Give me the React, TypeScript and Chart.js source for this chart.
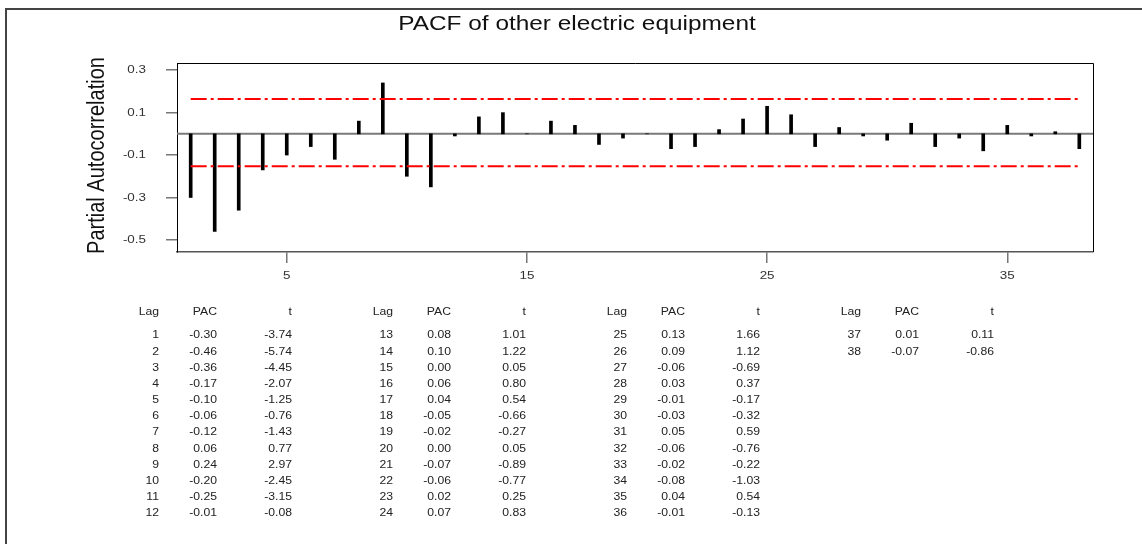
import React, { useEffect, useRef } from "react";
import { Chart, registerables } from "chart.js";

Chart.register(...registerables);

const TITLE = "PACF of other electric equipment";
const Y_TITLE = "Partial Autocorrelation";

const LAGS = [
  1, 2, 3, 4, 5, 6, 7, 8, 9, 10, 11, 12,
  13, 14, 15, 16, 17, 18, 19, 20, 21, 22, 23, 24,
  25, 26, 27, 28, 29, 30, 31, 32, 33, 34, 35, 36,
  37, 38,
];
const PAC = [
  -0.30, -0.46, -0.36, -0.17, -0.10, -0.06, -0.12, 0.06, 0.24, -0.20, -0.25, -0.01,
  0.08, 0.10, 0.00, 0.06, 0.04, -0.05, -0.02, 0.00, -0.07, -0.06, 0.02, 0.07,
  0.13, 0.09, -0.06, 0.03, -0.01, -0.03, 0.05, -0.06, -0.02, -0.08, 0.04, -0.01,
  0.01, -0.07,
];
const T_STATS = [
  -3.74, -5.74, -4.45, -2.07, -1.25, -0.76, -1.43, 0.77, 2.97, -2.45, -3.15, -0.08,
  1.01, 1.22, 0.05, 0.80, 0.54, -0.66, -0.27, 0.05, -0.89, -0.77, 0.25, 0.83,
  1.66, 1.12, -0.69, 0.37, -0.17, -0.32, 0.59, -0.76, -0.22, -1.03, 0.54, -0.13,
  0.11, -0.86,
];
const UPPER_LIMIT = 0.164;
const LOWER_LIMIT = -0.153;
const Y_TICKS = [0.3, 0.1, -0.1, -0.3, -0.5];
const X_TICKS = [5, 15, 25, 35];
const TABLE_HEADERS = ["Lag", "PAC", "t"];

const X_MIN = 0.43;
const X_MAX = 38.57;
const Y_MIN = -0.557;
const Y_MAX = 0.334;

const SX = 1.22; // horizontal stretch of the reference's text
const FONT = "'Liberation Sans', Arial, sans-serif";

function drawText(
  ctx: CanvasRenderingContext2D,
  text: string,
  x: number,
  y: number,
  align: CanvasTextAlign,
  baseline: CanvasTextBaseline,
  size: number,
  color: string,
  rotate = false
) {
  ctx.save();
  ctx.translate(x, y);
  ctx.scale(SX, 1);
  if (rotate) ctx.rotate(-Math.PI / 2);
  ctx.font = `${size}px ${FONT}`;
  ctx.fillStyle = color;
  ctx.textAlign = align;
  ctx.textBaseline = baseline;
  ctx.fillText(text, 0, 0);
  ctx.restore();
}

const decorPlugin = {
  id: "decor",
  beforeDraw(chart: any) {
    const ctx = chart.ctx as CanvasRenderingContext2D;
    ctx.save();
    ctx.fillStyle = "#fff";
    ctx.fillRect(0, 0, chart.width, chart.height);
    // outer frame (top and left)
    ctx.strokeStyle = "#444";
    ctx.lineWidth = 2;
    ctx.beginPath();
    ctx.moveTo(6, 544);
    ctx.lineTo(6, 9);
    ctx.lineTo(1142, 9);
    ctx.stroke();
    ctx.restore();
  },
  afterDraw(chart: any) {
    const ctx = chart.ctx as CanvasRenderingContext2D;
    const a = chart.chartArea;
    ctx.save();
    // plot frame top/right
    ctx.strokeStyle = "#000";
    ctx.lineWidth = 1;
    ctx.beginPath();
    ctx.moveTo(a.left, a.top + 0.5);
    ctx.lineTo(a.right + 0.5, a.top + 0.5);
    ctx.lineTo(a.right + 0.5, a.bottom);
    ctx.stroke();
    ctx.restore();

    // title
    drawText(ctx, TITLE, 577, 30, "center", "alphabetic", 20, "#111");
    // y-axis title
    drawText(ctx, Y_TITLE, 104, 155.5, "center", "alphabetic", 20, "#111", true);

    // tick labels
    const ys = chart.scales.y;
    for (const t of ys.ticks) {
      const py = ys.getPixelForValue(t.value);
      drawText(ctx, t.value.toFixed(1), 146, py, "right", "middle", 11, "#333");
    }
    const xs = chart.scales.x;
    for (const t of xs.ticks) {
      const px = xs.getPixelForValue(t.value);
      drawText(ctx, String(t.value), px, 276, "center", "middle", 11, "#333");
    }

    // table
    const rowsPerGroup = 12;
    const groupStep = 234;
    const colRight = [159, 217, 292];
    const headerY = 312;
    const firstRowY = 335.7;
    const rowStep = 16.15;
    const groups = Math.ceil(LAGS.length / rowsPerGroup);
    for (let g = 0; g < groups; g++) {
      const off = g * groupStep;
      TABLE_HEADERS.forEach((h, c) => {
        drawText(ctx, h, colRight[c] + off, headerY, "right", "middle", 10, "#222");
      });
      for (let r = 0; r < rowsPerGroup; r++) {
        const i = g * rowsPerGroup + r;
        if (i >= LAGS.length) break;
        const y = firstRowY + r * rowStep;
        drawText(ctx, String(LAGS[i]), colRight[0] + off, y, "right", "middle", 10, "#222");
        drawText(ctx, PAC[i].toFixed(2), colRight[1] + off, y, "right", "middle", 10, "#222");
        drawText(ctx, T_STATS[i].toFixed(2), colRight[2] + off, y, "right", "middle", 10, "#222");
      }
    }
  },
};

export default function App() {
  const ref = useRef<HTMLCanvasElement>(null);
  useEffect(() => {
    document.body.style.margin = "0";
    const chart = new Chart(ref.current!, {
      type: "bar",
      data: {
        datasets: [
          {
            type: "line",
            data: [
              { x: X_MIN, y: 0 },
              { x: X_MAX, y: 0 },
            ],
            borderColor: "#7a7a7a",
            borderWidth: 2,
            pointRadius: 0,
            order: 3,
          } as any,
          {
            type: "bar",
            data: LAGS.map((l, i) => ({ x: l, y: PAC[i] })),
            backgroundColor: "#000",
            borderWidth: 0,
            barThickness: 3,
            order: 2,
          } as any,
          {
            type: "line",
            data: [
              { x: LAGS[0], y: UPPER_LIMIT },
              { x: LAGS[LAGS.length - 1], y: UPPER_LIMIT },
            ],
            borderColor: "#ff0000",
            borderWidth: 2,
            borderDash: [16, 4, 3, 4],
            pointRadius: 0,
            order: 1,
          } as any,
          {
            type: "line",
            data: [
              { x: LAGS[0], y: LOWER_LIMIT },
              { x: LAGS[LAGS.length - 1], y: LOWER_LIMIT },
            ],
            borderColor: "#ff0000",
            borderWidth: 2,
            borderDash: [16, 4, 3, 4],
            pointRadius: 0,
            order: 1,
          } as any,
        ],
      },
      options: {
        responsive: false,
        animation: false,
        devicePixelRatio: 1,
        layout: { padding: { left: 0, top: 63, right: 49, bottom: 262 } },
        plugins: { legend: { display: false }, tooltip: { enabled: false }, title: { display: false } },
        scales: {
          x: {
            type: "linear",
            min: X_MIN,
            max: X_MAX,
            offset: false,
            afterBuildTicks: (s: any) => {
              s.ticks = X_TICKS.map((v) => ({ value: v }));
            },
            afterFit: (s: any) => {
              s.height = 30;
            },
            ticks: { display: false },
            grid: {
              offset: false,
              drawOnChartArea: false,
              drawTicks: true,
              tickLength: 11,
              color: "#777",
              lineWidth: 1.5,
            },
            border: { display: true, color: "#555", width: 1.5 },
          },
          y: {
            type: "linear",
            min: Y_MIN,
            max: Y_MAX,
            afterBuildTicks: (s: any) => {
              s.ticks = Y_TICKS.map((v) => ({ value: v }));
            },
            afterFit: (s: any) => {
              s.width = 177;
            },
            ticks: { display: false },
            grid: {
              drawOnChartArea: false,
              drawTicks: true,
              tickLength: 11,
              color: "#777",
              lineWidth: 1.5,
            },
            border: { display: true, color: "#000", width: 1 },
          },
        },
      } as any,
      plugins: [decorPlugin],
    });
    return () => chart.destroy();
  }, []);
  return (
    <div style={{ position: "absolute", left: 0, top: 0, width: 1142, height: 544, background: "#fff" }}>
      <canvas ref={ref} width={1142} height={544} style={{ display: "block", width: 1142, height: 544 }} />
    </div>
  );
}
